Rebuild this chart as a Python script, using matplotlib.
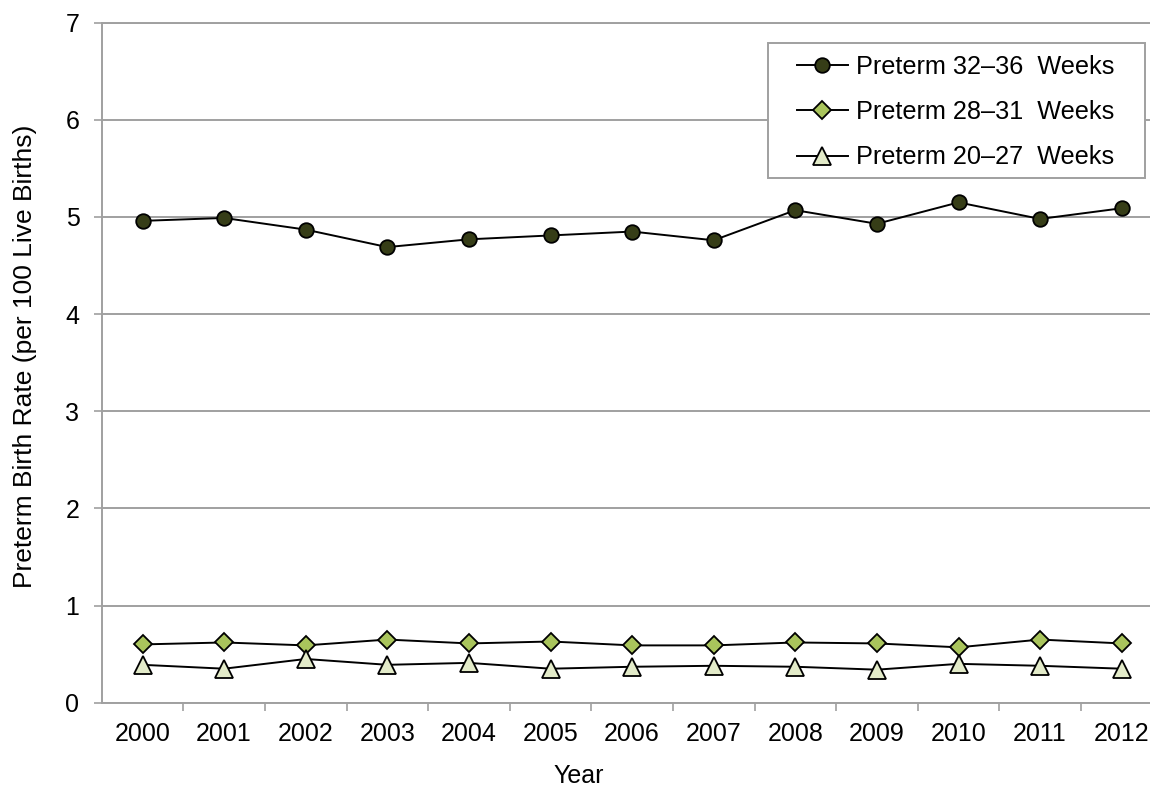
import matplotlib.pyplot as plt
from matplotlib.patches import Rectangle
import numpy as np

years = ['2000', '2001', '2002', '2003', '2004', '2005', '2006',
         '2007', '2008', '2009', '2010', '2011', '2012']
preterm_32_36 = [4.96, 4.99, 4.87, 4.69, 4.77, 4.81, 4.85,
                 4.76, 5.07, 4.93, 5.15, 4.98, 5.09]
preterm_28_31 = [0.60, 0.62, 0.59, 0.65, 0.61, 0.63, 0.59,
                 0.59, 0.62, 0.61, 0.57, 0.65, 0.61]
preterm_20_27 = [0.39, 0.35, 0.45, 0.39, 0.41, 0.35, 0.37,
                 0.38, 0.37, 0.34, 0.40, 0.38, 0.35]
labels = ['Preterm 32\u201336  Weeks', 'Preterm 28\u201331  Weeks',
          'Preterm 20\u201327  Weeks']

plt.rcParams['font.family'] = ['Liberation Sans', 'DejaVu Sans']
grey = '#a0a0a0'

W, H = 1150, 787
fig = plt.figure(figsize=(W / 100, H / 100), dpi=100)
# plot area runs a little past the right edge of the picture, as in the original
ax = fig.add_axes([101.7 / W, 1 - 702.7 / H, (1162.5 - 101.7) / W, 680 / H])

x = np.arange(len(years))
ax.plot(x, preterm_32_36, color='black', lw=1.4, marker='o', ms=10.5,
        mfc='#363d17', mec='black', mew=1.3, label=labels[0], zorder=3)
ax.plot(x, preterm_28_31, color='black', lw=1.4, marker='D', ms=9.3,
        mfc='#a9c45c', mec='black', mew=1.3, label=labels[1], zorder=3)
ax.plot(x, preterm_20_27, color='black', lw=1.4, marker='^', ms=12.5,
        mfc='#e3ebc9', mec='black', mew=1.3, label=labels[2], zorder=3)

ax.set_xlim(-0.5, len(years) - 0.5)
ax.set_ylim(0, 7)
ax.set_yticks(range(8))
ax.set_xticks(x)
ax.set_xticklabels(years)
ax.set_xticks(np.arange(0.5, len(years) - 0.5), minor=True)

ax.grid(axis='y', color=grey, lw=1.4)
ax.set_axisbelow(True)
for side in ['left', 'bottom', 'top']:
    ax.spines[side].set_color(grey)
    ax.spines[side].set_linewidth(1.4)
ax.spines['right'].set_visible(False)

ax.tick_params(axis='y', length=6, width=1.2, color=grey, pad=10, labelsize=18)
ax.tick_params(axis='x', which='major', length=0, pad=14, labelsize=18)
ax.tick_params(axis='x', which='minor', length=5.5, width=1.2, color=grey)

fig.text(579 / W, 1 - 776 / H, 'Year', ha='center', va='center', fontsize=18)
fig.text(25 / W, 1 - 356 / H, 'Preterm Birth Rate (per 100 Live Births)',
         rotation=90, ha='center', va='center', fontsize=19)

# legend box drawn by hand: the original has wider side padding than top padding
ax.add_patch(Rectangle((768 / W, 1 - 178 / H), (1145 - 768) / W, 135 / H,
                       transform=fig.transFigure, facecolor='white',
                       edgecolor=grey, lw=1.4, zorder=4, clip_on=False))
leg = ax.legend(loc='upper left', bbox_to_anchor=(797 / W, 1 - 55 / H),
                bbox_transform=fig.transFigure, frameon=False, fontsize=18.2,
                handlelength=2.0, handletextpad=0.33, labelspacing=0.84,
                borderpad=0, borderaxespad=0)
leg.set_zorder(5)

fig.savefig('out.png', dpi=100)
